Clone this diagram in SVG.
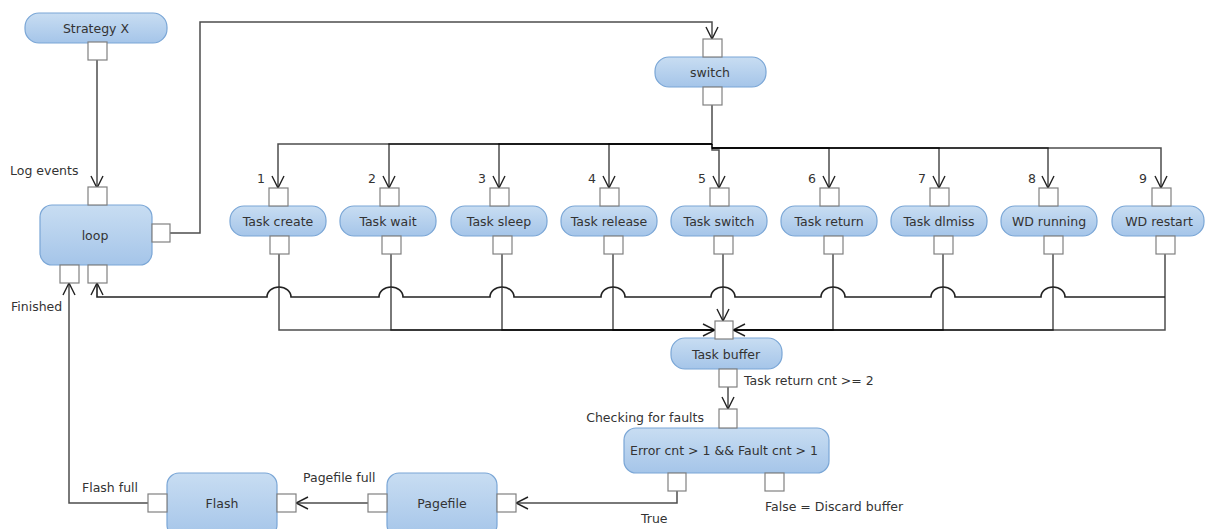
<svg xmlns="http://www.w3.org/2000/svg" width="1206" height="529" viewBox="0 0 1206 529">
  <defs>
    <linearGradient id="nodeFill" x1="0" y1="0" x2="0" y2="1">
      <stop offset="0" stop-color="#c8ddf2"/>
      <stop offset="1" stop-color="#a5c5e9"/>
    </linearGradient>
    <marker id="arrow" viewBox="0 0 14 14" refX="13" refY="7" markerWidth="14" markerHeight="14" markerUnits="userSpaceOnUse" orient="auto">
      <path d="M1,1 L13,7 L1,13" fill="none" stroke="#222" stroke-width="1.4"/>
    </marker>
  </defs>
  <style>
    .node { fill: url(#nodeFill); stroke: #7aa6d6; stroke-width: 1.2; }
    .pin { fill: #fff; stroke: #808080; stroke-width: 1.2; }
    .lbl { font-family: "DejaVu Sans", sans-serif; font-size: 12.5px; fill: #333; text-anchor: middle; dominant-baseline: central; }
    .txt { font-family: "DejaVu Sans", sans-serif; font-size: 12.5px; fill: #333; }
    .wire { fill: none; stroke: #000; stroke-opacity: 0.7; stroke-width: 1.5; }
    .dark { fill: none; stroke: #222; stroke-width: 1.6; }
  </style>

  <rect width="1206" height="529" fill="#fff"/>

  <!-- connectors -->
  <g id="connectors">
    <!-- Strategy X to loop -->
    <path class="wire" d="M97 60 V188" marker-end="url(#arrow)"/>
    <!-- loop to switch -->
    <path class="wire" d="M170 233 H200 V22 H712 V39" marker-end="url(#arrow)"/>
    <!-- switch fan-out -->
    <path class="wire" d="M712 105 V144 H278 V188" marker-end="url(#arrow)"/>
    <path class="wire" d="M712 144 H389 V188" marker-end="url(#arrow)"/>
    <path class="wire" d="M712 144 H499 V188" marker-end="url(#arrow)"/>
    <path class="wire" d="M712 144 H609 V188" marker-end="url(#arrow)"/>
    <path class="wire" d="M712 144 V150 H719 V188" marker-end="url(#arrow)"/>
    <path class="wire" d="M712 144 V148 H829 V188" marker-end="url(#arrow)"/>
    <path class="wire" d="M712 148 H939 V188" marker-end="url(#arrow)"/>
    <path class="wire" d="M712 148 H1048 V188" marker-end="url(#arrow)"/>
    <path class="wire" d="M712 148 H1161 V188" marker-end="url(#arrow)"/>

    <!-- tasks into Task buffer -->
    <path class="wire" d="M279 254 V330 H715" marker-end="url(#arrow)"/>
    <path class="wire" d="M391 254 V330 H715"/>
    <path class="wire" d="M502 254 V330 H715"/>
    <path class="wire" d="M613 254 V330 H715"/>
    <path class="wire" d="M723 254 V321" marker-end="url(#arrow)"/>
    <path class="wire" d="M833 254 V330 H733" marker-end="url(#arrow)"/>
    <path class="wire" d="M943 254 V330 H733"/>
    <path class="wire" d="M1053 254 V330 H733"/>
    <path class="wire" d="M1165 254 V330 H733"/>

    <!-- return to loop, hopping over the task lines -->
    <path class="dark" d="M1165 297 H1065 a12 10 0 0 0 -24 0 H955 a12 10 0 0 0 -24 0 H845 a12 10 0 0 0 -24 0 H735 a12 10 0 0 0 -24 0 H625 a12 10 0 0 0 -24 0 H514 a12 10 0 0 0 -24 0 H403 a12 10 0 0 0 -24 0 H291 a12 10 0 0 0 -24 0 H97 V283" marker-end="url(#arrow)"/>

    <!-- Task buffer to fault check -->
    <path class="wire" d="M728 387 V409" marker-end="url(#arrow)"/>
    <!-- True branch to Pagefile -->
    <path class="wire" d="M677 491 V503 H516" marker-end="url(#arrow)"/>
    <!-- Pagefile full to Flash -->
    <path class="wire" d="M368 503 H296" marker-end="url(#arrow)"/>
    <!-- Flash full back to loop -->
    <path class="wire" d="M148 503 H69 V283" marker-end="url(#arrow)"/>
  </g>

  <!-- nodes -->
  <g id="strategy-x">
    <rect class="node" x="25" y="13" width="142" height="30" rx="14"/>
    <text class="lbl" x="96" y="28">Strategy X</text>
    <rect class="pin" x="88" y="42" width="19" height="18"/>
  </g>

  <g id="loop">
    <rect class="node" x="40" y="205" width="112" height="60" rx="12"/>
    <text class="lbl" x="95" y="235">loop</text>
    <rect class="pin" x="88" y="187" width="19" height="18"/>
    <rect class="pin" x="152" y="224" width="18" height="18"/>
    <rect class="pin" x="60" y="265" width="19" height="18"/>
    <rect class="pin" x="88" y="265" width="19" height="18"/>
  </g>

  <g id="switch">
    <rect class="node" x="655" y="57" width="111" height="30" rx="14"/>
    <text class="lbl" x="710" y="72">switch</text>
    <rect class="pin" x="703" y="39" width="19" height="18"/>
    <rect class="pin" x="703" y="87" width="19" height="18"/>
  </g>

  <g id="task-create">
    <rect class="node" x="230" y="206" width="96" height="30" rx="14"/>
    <text class="lbl" x="278" y="221">Task create</text>
    <rect class="pin" x="269" y="188" width="19" height="18"/>
    <rect class="pin" x="270" y="236" width="19" height="18"/>
    <text class="lbl" x="261" y="178">1</text>
  </g>

  <g id="task-wait">
    <rect class="node" x="340" y="206" width="96" height="30" rx="14"/>
    <text class="lbl" x="388" y="221">Task wait</text>
    <rect class="pin" x="380" y="188" width="19" height="18"/>
    <rect class="pin" x="382" y="236" width="19" height="18"/>
    <text class="lbl" x="372" y="178">2</text>
  </g>

  <g id="task-sleep">
    <rect class="node" x="451" y="206" width="96" height="30" rx="14"/>
    <text class="lbl" x="499" y="221">Task sleep</text>
    <rect class="pin" x="490" y="188" width="19" height="18"/>
    <rect class="pin" x="493" y="236" width="19" height="18"/>
    <text class="lbl" x="482" y="178">3</text>
  </g>

  <g id="task-release">
    <rect class="node" x="561" y="206" width="96" height="30" rx="14"/>
    <text class="lbl" x="609" y="221">Task release</text>
    <rect class="pin" x="600" y="188" width="19" height="18"/>
    <rect class="pin" x="604" y="236" width="19" height="18"/>
    <text class="lbl" x="592" y="178">4</text>
  </g>

  <g id="task-switch">
    <rect class="node" x="671" y="206" width="96" height="30" rx="14"/>
    <text class="lbl" x="719" y="221">Task switch</text>
    <rect class="pin" x="710" y="188" width="19" height="18"/>
    <rect class="pin" x="714" y="236" width="19" height="18"/>
    <text class="lbl" x="702" y="178">5</text>
  </g>

  <g id="task-return">
    <rect class="node" x="781" y="206" width="96" height="30" rx="14"/>
    <text class="lbl" x="829" y="221">Task return</text>
    <rect class="pin" x="820" y="188" width="19" height="18"/>
    <rect class="pin" x="824" y="236" width="19" height="18"/>
    <text class="lbl" x="812" y="178">6</text>
  </g>

  <g id="task-dlmiss">
    <rect class="node" x="891" y="206" width="96" height="30" rx="14"/>
    <text class="lbl" x="939" y="221">Task dlmiss</text>
    <rect class="pin" x="930" y="188" width="19" height="18"/>
    <rect class="pin" x="934" y="236" width="19" height="18"/>
    <text class="lbl" x="922" y="178">7</text>
  </g>

  <g id="wd-running">
    <rect class="node" x="1001" y="206" width="96" height="30" rx="14"/>
    <text class="lbl" x="1049" y="221">WD running</text>
    <rect class="pin" x="1039" y="188" width="19" height="18"/>
    <rect class="pin" x="1044" y="236" width="19" height="18"/>
    <text class="lbl" x="1032" y="178">8</text>
  </g>

  <g id="wd-restart">
    <rect class="node" x="1112" y="206" width="92" height="30" rx="14"/>
    <text class="lbl" x="1159" y="221">WD restart</text>
    <rect class="pin" x="1152" y="188" width="19" height="18"/>
    <rect class="pin" x="1156" y="236" width="19" height="18"/>
    <text class="lbl" x="1143" y="178">9</text>
  </g>

  <g id="task-buffer">
    <rect class="node" x="671" y="338" width="111" height="31" rx="14"/>
    <text class="lbl" x="726" y="354">Task buffer</text>
    <rect class="pin" x="715" y="321" width="18" height="18"/>
    <rect class="pin" x="719" y="369" width="18" height="18"/>
    <text class="txt" x="744" y="385">Task return cnt &gt;= 2</text>
  </g>

  <g id="fault-check">
    <rect class="node" x="624" y="428" width="205" height="45" rx="12"/>
    <text class="lbl" x="724" y="450">Error cnt &gt; 1 &amp;&amp; Fault cnt &gt; 1</text>
    <rect class="pin" x="719" y="409" width="18" height="19"/>
    <rect class="pin" x="668" y="473" width="18" height="18"/>
    <rect class="pin" x="765" y="473" width="19" height="18"/>
    <text class="txt" x="704" y="422" text-anchor="end">Checking for faults</text>
    <text class="txt" x="641" y="523">True</text>
    <text class="txt" x="765" y="511">False = Discard buffer</text>
  </g>

  <g id="pagefile">
    <rect class="node" x="387" y="473" width="110" height="64" rx="12"/>
    <text class="lbl" x="442" y="503">Pagefile</text>
    <rect class="pin" x="368" y="494" width="19" height="18"/>
    <rect class="pin" x="497" y="494" width="19" height="18"/>
    <text class="txt" x="303" y="482">Pagefile full</text>
  </g>

  <g id="flash">
    <rect class="node" x="167" y="473" width="110" height="64" rx="12"/>
    <text class="lbl" x="222" y="503">Flash</text>
    <rect class="pin" x="148" y="494" width="19" height="18"/>
    <rect class="pin" x="277" y="494" width="19" height="18"/>
    <text class="txt" x="82" y="492">Flash full</text>
  </g>

  <!-- free labels on loop -->
  <text class="txt" x="10" y="175">Log events</text>
  <text class="txt" x="11" y="311">Finished</text>
</svg>
